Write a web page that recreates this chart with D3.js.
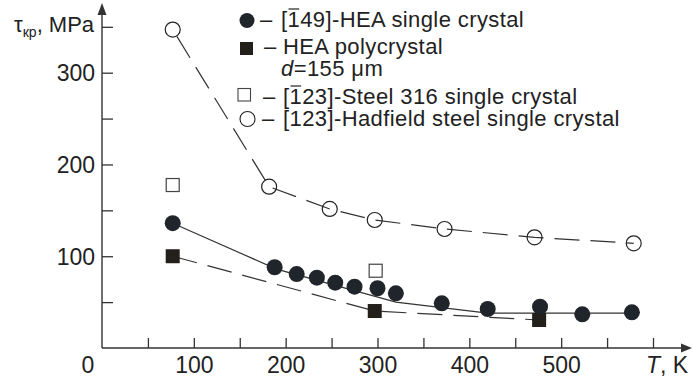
<!DOCTYPE html>
<meta charset="utf-8">
<style>
body { margin: 0; background: #fff; }
svg text { font-family: Arial, "Liberation Sans", sans-serif; fill: #222; }
.tick line { stroke: #333; stroke-width: 1.3px; }
.tick text { font-size: 23px; }
</style>
<svg width="693" height="386"></svg>
<script src="https://d3js.org/d3.v7.min.js"></script>
<script>

  // [-149] HEA single crystal (filled circles)
  var heaSingleT   = [77, 188, 212, 234, 254, 275, 300, 320, 370, 420, 477, 523, 577];
  var heaSingleTau = [136, 88, 80.6, 76.6, 71.2, 66.8, 65.1, 59.6, 48.7, 42.5, 45, 36.7, 38.9];
  // trend line drawn through the filled circles
  var heaSingleFitT   = [77, 190, 320, 420, 585];
  var heaSingleFitTau = [136, 86, 50, 38, 38];

  // HEA polycrystal d=155 um (filled squares)
  var heaPolyT   = [77, 297, 476];
  var heaPolyTau = [100, 40.3, 30.5];

  // [-123] Steel 316 single crystal (open squares)
  var steelT   = [77, 298];
  var steelTau = [177.6, 84.2];

  // [123] Hadfield steel single crystal (open circles)
  var hadfieldT   = [77, 182, 248, 297, 373, 471, 579];
  var hadfieldTau = [347, 175.8, 151.5, 139.5, 129.7, 120.6, 114.1];

  var xTicks = [50, 100, 150, 200, 250, 300, 350, 400, 450, 500, 550, 600];
  var xLabels = [100, 200, 300, 400, 500];
  var yTicks = [50, 100, 150, 200, 250, 300, 350];
  var yLabels = [100, 200, 300];

  var svg = d3.select("svg");
  var x = d3.scaleLinear().domain([0, 600]).range([102, 653]);
  var y = d3.scaleLinear().domain([0, 300]).range([348, 72.7]);

  function pairs(a, b) { return a.map(function(v, i) { return [v, b[i]]; }); }

  // axes
  var gx = svg.append("g")
      .attr("transform", "translate(0," + y(0) + ")")
      .call(d3.axisBottom(x).tickValues(xTicks).tickSize(-10).tickPadding(9)
        .tickFormat(function(d) { return xLabels.indexOf(d) >= 0 ? d : ""; }));
  gx.select(".domain").remove();

  var gy = svg.append("g")
      .attr("transform", "translate(" + x(0) + ",0)")
      .call(d3.axisLeft(y).tickValues(yTicks).tickSize(-11).tickPadding(7)
        .tickFormat(function(d) { return yLabels.indexOf(d) >= 0 ? d : ""; }));
  gy.select(".domain").remove();
  gy.selectAll(".tick text").attr("dy", "0.36em");

  var axisColor = "#333";
  svg.append("line").attr("x1", x(0)).attr("x2", 684).attr("y1", y(0)).attr("y2", y(0))
      .attr("stroke", axisColor).attr("stroke-width", 1.4);
  svg.append("path").attr("d", "M692," + y(0) + "L681," + (y(0) - 4.5) + "L681," + (y(0) + 4.5) + "Z")
      .attr("fill", axisColor);
  svg.append("line").attr("x1", x(0)).attr("x2", x(0)).attr("y1", y(0)).attr("y2", 12)
      .attr("stroke", axisColor).attr("stroke-width", 1.4);
  svg.append("path").attr("d", "M" + x(0) + ",3L" + (x(0) - 4.5) + ",15L" + (x(0) + 4.5) + ",15Z")
      .attr("fill", axisColor);

  svg.append("text").attr("x", 88).attr("y", 373).attr("text-anchor", "middle")
      .style("font-size", "23px").text("0");

  var xt = svg.append("text").attr("x", 646).attr("y", 373).style("font-size", "23px");
  xt.append("tspan").style("font-style", "italic").text("T");
  xt.append("tspan").text(", K");

  var yt = svg.append("text").attr("x", 14).attr("y", 32).style("font-size", "22px");
  yt.append("tspan").text("\u03c4");
  yt.append("tspan").attr("dy", 5).style("font-size", "14px").text("\u043a\u0440");
  yt.append("tspan").attr("dy", -5).text(", MPa");

  // lines
  var line = d3.line().x(function(d) { return x(d[0]); }).y(function(d) { return y(d[1]); });

  svg.append("path").datum(pairs(hadfieldT, hadfieldTau)).attr("d", line)
      .attr("fill", "none").attr("stroke", "#333").attr("stroke-width", 1.2)
      .attr("stroke-dasharray", "25,11").attr("stroke-dashoffset", -8);
  svg.append("path").datum(pairs(heaPolyT, heaPolyTau)).attr("d", line)
      .attr("fill", "none").attr("stroke", "#333").attr("stroke-width", 1.2)
      .attr("stroke-dasharray", "25,11");
  svg.append("path").datum(pairs(heaSingleFitT, heaSingleFitTau)).attr("d", line)
      .attr("fill", "none").attr("stroke", "#333").attr("stroke-width", 1.2);

  // markers
  svg.append("g").selectAll("circle").data(pairs(hadfieldT, hadfieldTau)).enter().append("circle")
      .attr("cx", function(d) { return x(d[0]); }).attr("cy", function(d) { return y(d[1]); })
      .attr("r", 7.5).attr("fill", "none").attr("stroke", "#222").attr("stroke-width", 1.2);
  svg.append("g").selectAll("rect").data(pairs(steelT, steelTau)).enter().append("rect")
      .attr("x", function(d) { return x(d[0]) - 6.5; }).attr("y", function(d) { return y(d[1]) - 6.5; })
      .attr("width", 13).attr("height", 13).attr("fill", "#fff").attr("stroke", "#444").attr("stroke-width", 1.2);
  svg.append("g").selectAll("rect").data(pairs(heaPolyT, heaPolyTau)).enter().append("rect")
      .attr("x", function(d) { return x(d[0]) - 7; }).attr("y", function(d) { return y(d[1]) - 7; })
      .attr("width", 14).attr("height", 14).attr("fill", "#231f1b");
  svg.append("g").selectAll("circle").data(pairs(heaSingleT, heaSingleTau)).enter().append("circle")
      .attr("cx", function(d) { return x(d[0]); }).attr("cy", function(d) { return y(d[1]); })
      .attr("r", 8).attr("fill", "#20252b");

  // legend
  var lg = svg.append("g").style("font-size", "22px");
  lg.append("circle").attr("cx", 247).attr("cy", 20.5).attr("r", 7.5).attr("fill", "#20252b");
  lg.append("rect").attr("x", 240).attr("y", 42).attr("width", 13).attr("height", 13).attr("fill", "#231f1b");
  lg.append("rect").attr("x", 238).attr("y", 88.5).attr("width", 12.5).attr("height", 12.5)
      .attr("fill", "#fff").attr("stroke", "#444").attr("stroke-width", 1.1);
  lg.append("circle").attr("cx", 247.5).attr("cy", 119).attr("r", 7.5)
      .attr("fill", "none").attr("stroke", "#222").attr("stroke-width", 1.1);

  var legendRows = [
    { dashX: 260, x: 281, y: 27, text: "[149]-HEA single crystal", bar: true },
    { dashX: 264, x: 283, y: 54, text: "HEA polycrystal", bar: false },
    { dashX: 263, x: 283, y: 104, text: "[123]-Steel 316 single crystal", bar: true },
    { dashX: 262, x: 283, y: 126, text: "[123]-Hadfield steel single crystal", bar: false }
  ];
  legendRows.forEach(function(r) {
    lg.append("text").attr("x", r.dashX).attr("y", r.y).text("\u2013");
    var t = lg.append("text").attr("x", r.x).attr("y", r.y)
        .style("letter-spacing", "0.4px").text(r.text);
    if (r.bar) {
      var n = t.node();
      var a = n.getStartPositionOfChar(1).x, b = n.getEndPositionOfChar(1).x;
      lg.append("line").attr("x1", a + 1).attr("x2", b - 1).attr("y1", r.y - 18).attr("y2", r.y - 18)
          .attr("stroke", "#222").attr("stroke-width", 1.2);
    }
  });
  var dt = lg.append("text").attr("x", 281).attr("y", 76).style("letter-spacing", "0.4px");
  dt.append("tspan").style("font-style", "italic").text("d");
  dt.append("tspan").text("=155 \u03bcm");

</script>
